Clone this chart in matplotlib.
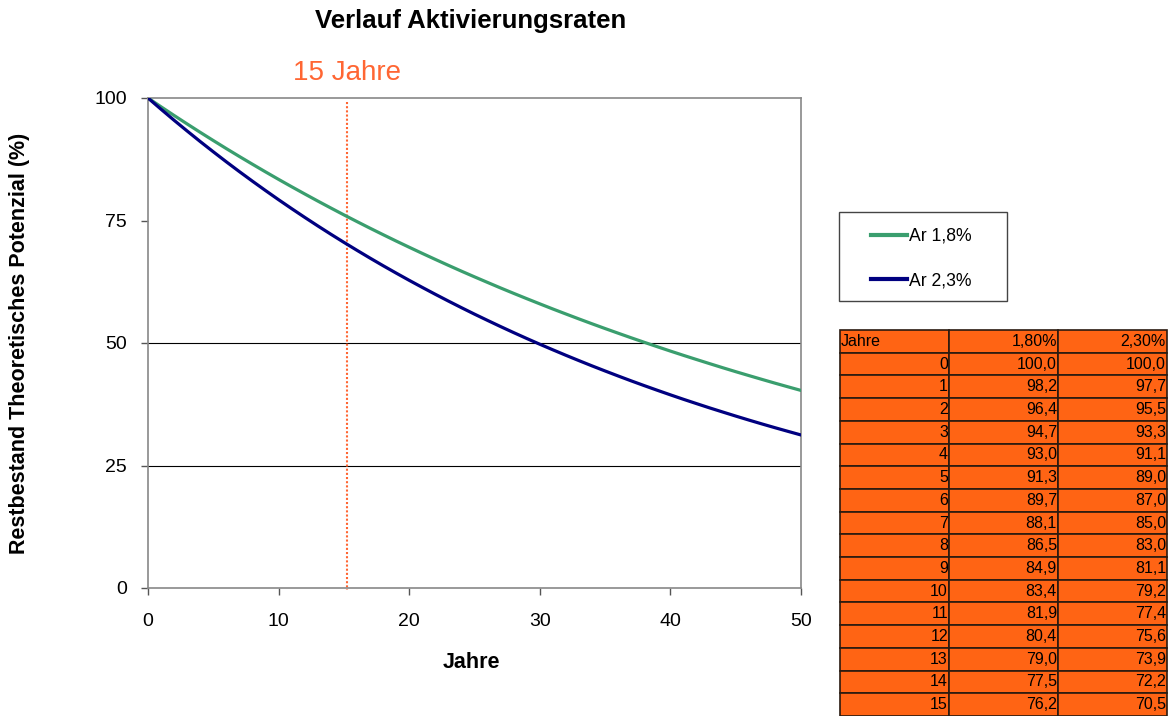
import matplotlib
matplotlib.use("Agg")
import matplotlib.pyplot as plt
from matplotlib.patches import Rectangle

plt.rcParams["font.family"] = ["Liberation Sans", "DejaVu Sans"]

# data
years = list(range(51))
ar_18 = [100.0, 98.2, 96.43, 94.70, 92.99, 91.32, 89.67, 88.06, 86.48, 84.92,
         83.39, 81.89, 80.42, 78.97, 77.55, 76.15, 74.78, 73.43, 72.11, 70.81,
         69.54, 68.29, 67.06, 65.85, 64.66, 63.50, 62.36, 61.23, 60.13, 59.05,
         57.99, 56.94, 55.92, 54.91, 53.92, 52.95, 52.00, 51.06, 50.14, 49.24,
         48.35, 47.48, 46.63, 45.79, 44.96, 44.15, 43.36, 42.58, 41.81, 41.06,
         40.32]
ar_23 = [100.0, 97.7, 95.45, 93.26, 91.11, 89.02, 86.97, 84.97, 83.02, 81.11,
         79.24, 77.42, 75.64, 73.90, 72.20, 70.54, 68.92, 67.33, 65.78, 64.27,
         62.79, 61.35, 59.94, 58.56, 57.21, 55.89, 54.61, 53.35, 52.12, 50.92,
         49.75, 48.61, 47.49, 46.40, 45.33, 44.29, 43.27, 42.27, 41.30, 40.35,
         39.42, 38.51, 37.63, 36.76, 35.92, 35.09, 34.28, 33.49, 32.72, 31.97,
         31.23]
marker_year = 15.2

table_years = list(range(16))
table_18 = [100.0, 98.2, 96.4, 94.7, 93.0, 91.3, 89.7, 88.1, 86.5, 84.9,
            83.4, 81.9, 80.4, 79.0, 77.5, 76.2]
table_23 = [100.0, 97.7, 95.5, 93.3, 91.1, 89.0, 87.0, 85.0, 83.0, 81.1,
            79.2, 77.4, 75.6, 73.9, 72.2, 70.5]
table_header = ["Jahre", "1,80%", "2,30%"]

W, H = 1171, 716
fig = plt.figure(figsize=(W / 100, H / 100), dpi=100)
fig.patch.set_facecolor("white")

ax = fig.add_axes([148 / W, 1 - 588 / H, 653 / W, 490 / H])
ax.axhline(25, color="black", lw=0.8, zorder=1)
ax.axhline(50, color="black", lw=0.8, zorder=1)

green = "#3a9e6e"
navy = "#000080"
orange = "#ff6633"

ax.plot(years, ar_18, color=green, lw=2.3, label="Ar 1,8%", zorder=3)
ax.plot(years, ar_23, color=navy, lw=2.3, label="Ar 2,3%", zorder=3)
ax.plot([marker_year, marker_year], [99.2, -0.5], color=orange, lw=1.5,
        ls=(0, (1, 1)), clip_on=False, zorder=2)

ax.set_xlim(0, 50)
ax.set_ylim(0, 100)
ax.set_xticks([0, 10, 20, 30, 40, 50])
ax.set_yticks([0, 25, 50, 75, 100])
for s in ax.spines.values():
    s.set_color("#888888")
    s.set_linewidth(1.2)
ax.tick_params(direction="out", length=5, width=1, colors="#555555",
               labelcolor="black", labelsize=14, pad=10)
ax.tick_params(axis="x", pad=13)

ax.set_xlabel("Jahre", fontsize=15.5, fontweight="bold")
ax.xaxis.set_label_coords(323 / 653, (588 - 663) / 490)
ax.xaxis.label.set_va("center")
ax.set_ylabel("Restbestand Theoretisches Potenzial (%)", fontsize=15.5,
              fontweight="bold")
ax.yaxis.set_label_coords((20 - 148) / 653, 0.5)
ax.yaxis.label.set_va("center")

fig.text(471 / W, 1 - 21 / H, "Verlauf Aktivierungsraten", ha="center",
         va="center", fontsize=18.5, fontweight="bold")
fig.text(347 / W, 1 - 73 / H, "15 Jahre", ha="center", va="center",
         fontsize=20, color=orange)

# legend: frame drawn separately so the padding can match the original
fig.patches.append(Rectangle((839 / W, 1 - 301 / H), 168 / W, 89 / H,
                             transform=fig.transFigure, fill=False,
                             edgecolor="#444444", lw=1.0))
leg = ax.legend(loc="center left", bbox_to_anchor=(871 / W, 1 - 258.5 / H),
                bbox_transform=fig.transFigure, fontsize=12.7, frameon=False,
                handlelength=2.05, handletextpad=0.1, labelspacing=1.55,
                borderpad=0, borderaxespad=0)
for line in leg.get_lines():
    line.set_linewidth(3)

# table
tax = fig.add_axes([840 / W, 0, 327 / W, (716 - 330) / H])
tax.axis("off")
cells = [table_header] + [
    [str(y), f"{a:.1f}".replace(".", ","), f"{b:.1f}".replace(".", ",")]
    for y, a, b in zip(table_years, table_18, table_23)
]
tbl = tax.table(cellText=cells, loc="upper left", bbox=[0, 0, 1, 1],
                cellLoc="right")
tbl.auto_set_font_size(False)
tbl.set_fontsize(11.5)
for (r, c), cell in tbl.get_celld().items():
    cell.set_facecolor("#ff6414")
    cell.set_edgecolor("#2a1a10")
    cell.set_linewidth(1.2)
    cell.PAD = 0.01
    if r == 0 and c == 0:
        cell.get_text().set_ha("left")
        cell._loc = "left"

fig.savefig("out.png", dpi=100)
